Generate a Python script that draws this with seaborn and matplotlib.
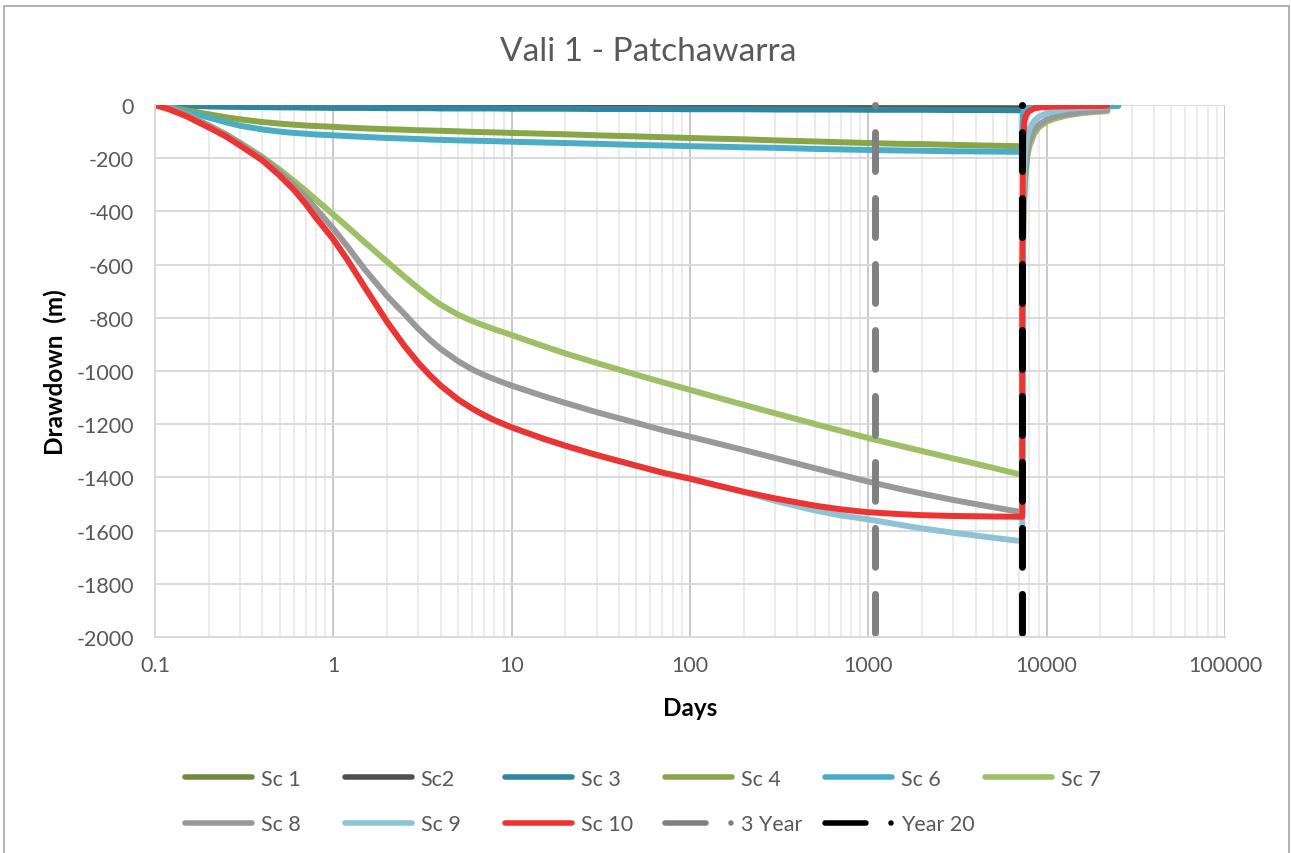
import matplotlib
matplotlib.use("Agg")
import matplotlib.pyplot as plt
import numpy as np
import seaborn as sns
from matplotlib.lines import Line2D
from matplotlib.patches import Rectangle
from matplotlib.ticker import LogLocator, NullFormatter, FuncFormatter

# ---------------------------------------------------------------- data
# pumping period (days since start)
days = [0.1, 0.12, 0.15, 0.2, 0.25, 0.3, 0.4, 0.5, 0.6, 0.7, 0.8, 1, 1.2, 1.5, 2, 2.5,
        3, 3.5, 4, 5, 6, 7, 8, 10, 15, 20, 30, 50, 70, 100, 150, 200, 300, 500, 700,
        1000, 1500, 2000, 3000, 5000, 7300]

sc1 = [0, -1, -2, -3, -4, -4, -5, -5, -5, -6, -6, -6, -6, -7, -7, -7,
       -7, -7, -8, -8, -8, -8, -8, -8, -9, -9, -9, -9, -9, -9, -10, -10, -10, -10, -10,
       -10, -11, -11, -11, -11, -12]
sc2 = [0, -1, -2, -4, -5, -5, -6, -7, -7, -7, -8, -8, -8, -8, -9, -9,
       -9, -9, -9, -10, -10, -10, -10, -10, -11, -11, -11, -11, -12, -12, -12, -12, -13, -13, -13,
       -13, -14, -14, -14, -14, -15]
sc3 = [0, -2, -3, -5, -6, -7, -8, -9, -9, -10, -10, -11, -11, -11, -12, -12,
       -12, -12, -13, -13, -13, -13, -13, -14, -14, -14, -15, -15, -15, -16, -16, -16, -17, -17, -17,
       -18, -18, -18, -19, -19, -20]
sc4 = [0, -8, -20, -35, -46, -54, -64, -70, -74, -77, -79, -82, -85, -88, -91, -93,
       -95, -96, -97, -99, -101, -102, -103, -105, -108, -110, -114, -118, -121, -124, -127, -129, -133, -137, -140,
       -143, -146, -147, -150, -153, -155]
sc6 = [0, -10, -25, -47, -65, -78, -92, -100, -105, -108, -111, -114, -117, -120, -124, -126,
       -128, -130, -131, -133, -134, -135, -136, -138, -141, -143, -146, -150, -152, -155, -157, -159, -161, -165, -167,
       -169, -171, -172, -174, -175, -176]
sc7 = [0, -12, -36, -76, -110, -142, -195, -243, -285, -322, -356, -412, -458, -516, -589, -645,
       -689, -724, -751, -788, -812, -829, -843, -865, -906, -934, -970, -1014, -1042, -1071, -1104, -1127, -1159, -1199, -1225,
       -1252, -1281, -1301, -1329, -1364, -1391]
sc8 = [0, -13, -38, -78, -112, -145, -200, -252, -300, -345, -390, -465, -532, -618, -718, -785,
       -842, -884, -917, -963, -994, -1015, -1031, -1055, -1094, -1120, -1155, -1195, -1222, -1247, -1276, -1297, -1327, -1365, -1390,
       -1416, -1443, -1461, -1485, -1512, -1531]
sc9 = [0, -16, -42, -84, -118, -152, -208, -265, -318, -372, -424, -505, -582, -685, -815, -905,
       -970, -1018, -1055, -1107, -1141, -1166, -1185, -1212, -1254, -1281, -1316, -1356, -1382, -1405, -1434, -1455, -1488, -1524, -1543,
       -1558, -1578, -1592, -1608, -1627, -1640]
sc10 = [0, -16, -42, -84, -118, -152, -208, -265, -318, -372, -424, -505, -582, -685, -815, -905,
        -970, -1018, -1055, -1107, -1141, -1166, -1185, -1212, -1254, -1281, -1316, -1356, -1382, -1405, -1434, -1454, -1479, -1506, -1520,
        -1531, -1538, -1542, -1545, -1547, -1548]

# recovery period after pumping stops
rec_days = [7301, 7310, 7350, 7400, 7500, 7600, 7800, 8000, 8500, 9000, 10000, 11000,
            13000, 16000, 19000, 21900]
sc7_rec = [-1050, -850, -600, -460, -340, -270, -190, -155, -110, -85, -63, -52, -39, -30, -26, -23]
sc8_rec = [-1150, -900, -600, -440, -320, -250, -170, -135, -95, -75, -55, -45, -34, -26, -22, -19]
sc9_rec = [-1100, -800, -500, -350, -230, -170, -120, -90, -60, -45, -30, -24, -15, -10, -8, -6]
sc10_rec = [-1000, -600, -250, -120, -65, -45, -30, -23, -13, -10, -7, -6, -5, -4, -4, -3]

sc6_rec_days = [7301, 7310, 7350, 7400, 7500, 8000, 9000, 10000, 13000, 17000, 21000, 25200]
sc6_rec = [-140, -90, -40, -25, -15, -8, -6, -6, -5, -5, -5, -4]

# reference times (days)
marker_labels = ["3 Year", "Year 20"]
marker_days = [1095, 7300]
marker_span = [0, -2000]

x_ticks = [0.1, 1, 10, 100, 1000, 10000, 100000]
x_tick_labels = ["0.1", "1", "10", "100", "1000", "10000", "100000"]
y_ticks = list(range(0, -2001, -200))

# ---------------------------------------------------------------- style
sns.set_theme(style="white")
plt.rcParams["font.family"] = ["Lato", "DejaVu Sans"]
plt.rcParams["axes.unicode_minus"] = False
plt.rcParams["lines.scale_dashes"] = False

W, H, DPI = 1291, 854, 100
LW = 4.3
FS = 15.5
TXT = "#595959"

colors = {
    "Sc 1": "#6E8B3D", "Sc2": "#505050", "Sc 3": "#31859C", "Sc 4": "#88A648",
    "Sc 6": "#4BACC6", "Sc 7": "#9DBF66", "Sc 8": "#999999", "Sc 9": "#8EC3D6",
    "Sc 10": "#EE3333", "3 Year": "#808080", "Year 20": "#000000",
}

fig = plt.figure(figsize=(W / DPI, H / DPI), dpi=DPI)
ax = fig.add_axes([155 / W, 1 - 638 / H, 1070 / W, 532 / H])
ax.set_xscale("log")

series = [
    ("Sc 1", days, sc1),
    ("Sc2", days, sc2),
    ("Sc 3", days, sc3),
    ("Sc 4", days, sc4),
    ("Sc 6", days + sc6_rec_days, sc6 + sc6_rec),
    ("Sc 7", days + rec_days, sc7 + sc7_rec),
    ("Sc 8", days + rec_days, sc8 + sc8_rec),
    ("Sc 9", days + rec_days, sc9 + sc9_rec),
    ("Sc 10", days + rec_days, sc10 + sc10_rec),
]
for name, x, y in series:
    sns.lineplot(x=x, y=y, ax=ax, color=colors[name], lw=LW,
                 estimator=None, sort=False, legend=False)
    ln = ax.lines[-1]
    ln.set_solid_capstyle("round")
    ln.set_solid_joinstyle("round")

# vertical time markers: dot at the top, long dashes below
for name, d in zip(marker_labels, marker_days):
    sns.lineplot(x=[d, d], y=marker_span, ax=ax, color=colors[name], lw=5,
                 estimator=None, sort=False, legend=False)
    ln = ax.lines[-1]
    ln.set_linestyle((28, (28, 19.5)))
    ln.set_dash_capstyle("round")
    ln.set_marker("o")
    ln.set_markevery([0])
    ln.set_markersize(5)
    ln.set_markeredgewidth(0)
    ln.set_clip_on(False)

# ---------------------------------------------------------------- axes
ax.set_xlim(x_ticks[0], x_ticks[-1])
ax.set_ylim(y_ticks[-1], y_ticks[0])
ax.set_xticks(x_ticks)
ax.set_xticklabels(x_tick_labels)
ax.xaxis.set_minor_locator(LogLocator(base=10, subs=np.arange(2, 10), numticks=20))
ax.xaxis.set_minor_formatter(NullFormatter())
ax.set_yticks(y_ticks)
ax.yaxis.set_major_formatter(FuncFormatter(lambda v, p: f"{v:.0f}"))

ax.grid(which="minor", axis="x", color="#ebebeb", lw=1.4)
ax.grid(which="major", axis="x", color="#c8c8c8", lw=1.4)
ax.grid(which="major", axis="y", color="#d9d9d9", lw=1.4)
ax.set_axisbelow(True)
ax.tick_params(which="both", length=0)
ax.tick_params(axis="y", pad=15, labelsize=FS, labelcolor=TXT)
ax.tick_params(axis="x", pad=13, labelsize=FS, labelcolor=TXT)
for s in ["top", "right"]:
    ax.spines[s].set_visible(False)
for s in ["left", "bottom"]:
    ax.spines[s].set_color("#d9d9d9")
    ax.spines[s].set_linewidth(1.4)

ax.set_xlabel("Days", fontsize=17.5, fontweight="bold", color="#000000")
ax.set_ylabel("Drawdown  (m)", fontsize=17.5, fontweight="bold", color="#000000")
ax.xaxis.set_label_coords(0.5, (854 - 708 - 216) / 532)
ax.xaxis.label.set_va("center")
ax.yaxis.set_label_coords((55 - 155) / 1070, 0.5)
ax.yaxis.label.set_va("center")
ax.yaxis.label.set_ha("center")

fig.suptitle("Vali 1 - Patchawarra", x=648 / W, y=1 - 52 / H, va="center",
             fontsize=24, color=TXT)

# ---------------------------------------------------------------- legend
def solid(name):
    return Line2D([], [], color=colors[name], lw=4, solid_capstyle="round")

def dashdot(name):
    return Line2D([], [], color=colors[name], lw=4, dash_capstyle="round",
                  linestyle=(0, (29.5, 18, 0.001, 300)))

order = ["Sc 1", "Sc 8", "Sc2", "Sc 9", "Sc 3", "Sc 10", "Sc 4", "3 Year",
         "Sc 6", "Year 20", "Sc 7"]
handles = [dashdot(n) if n in marker_labels else solid(n) for n in order]
leg = ax.legend(handles, order, ncol=6, loc="upper left",
                bbox_to_anchor=(185 / W, 1 - 770 / H), bbox_transform=fig.transFigure,
                frameon=False, fontsize=FS, labelcolor=TXT, borderpad=0,
                borderaxespad=0, handlelength=3.12, handletextpad=0.4,
                labelspacing=1.17, columnspacing=1.5)

# equal-width legend columns on a fixed pitch
hbox = leg._legend_handle_box
hbox.mode = "equal"
fig.canvas.draw()
r = fig.canvas.get_renderer()
maxw = max(c.get_bbox(r).width for c in hbox.get_children())
hbox.sep = (160 - maxw) / r.points_to_pixels(1.0)

# chart frame
fig.patches.append(Rectangle((4 / W, -0.05), (1289 - 4) / W, 1 - 7 / H + 0.05,
                             transform=fig.transFigure, fill=False,
                             ec="#a6a6a6", lw=1.2))

fig.savefig("out.png", dpi=DPI)
